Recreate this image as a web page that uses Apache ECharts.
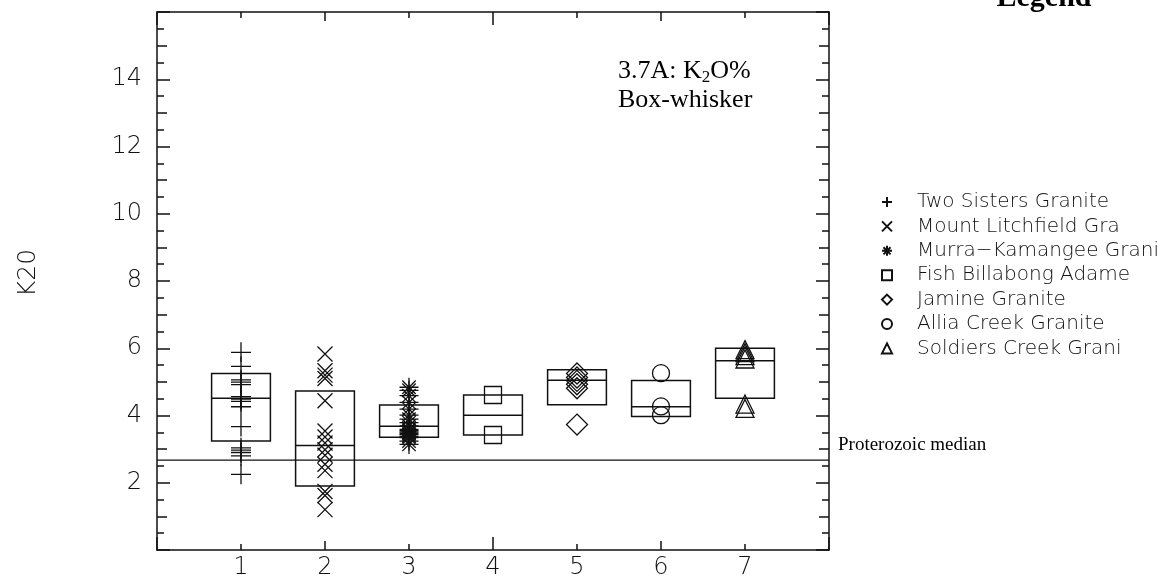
<!DOCTYPE html>
<html>
<head>
<meta charset="utf-8">
<script src="https://cdn.jsdelivr.net/npm/echarts@6/dist/echarts.min.js"></script>
<style>
html,body{margin:0;padding:0;background:#fff;}
#chart{width:1171px;height:581px;}
</style>
</head>
<body>
<div id="chart"></div>
<script>
// ---------------- data ----------------
const xPositions = [1, 2, 3, 4, 5, 6, 7];
const xTickLabels = ['1', '2', '3', '4', '5', '6', '7'];
const yTickLabels = ['2', '4', '6', '8', '10', '12', '14'];
const seriesNames = [
  'Two Sisters Granite',
  'Mount Litchfield Gra',
  'Murra\u2212Kamangee Grani',
  'Fish Billabong Adame',
  'Jamine Granite',
  'Allia Creek Granite',
  'Soldiers Creek Grani'
];
const twoSisters = [5.88, 5.46, 5.06, 4.99, 4.92, 4.56, 4.49, 4.42, 4.26, 3.67, 3.04, 2.97, 2.90, 2.80, 2.25];
const mountLitchfield = [5.83, 5.33, 5.20, 5.10, 4.44, 3.54, 3.36, 3.18, 2.98, 2.82, 2.55, 2.36, 1.74, 1.62, 1.20];
const murraKamangee = [4.84, 4.75, 4.59, 4.39, 4.19, 4.01, 3.89, 3.79, 3.69, 3.59, 3.55, 3.51, 3.47, 3.43, 3.38, 3.34, 3.24, 3.14];
const fishBillabong = [4.61, 3.42];
const jamine = [5.25, 5.13, 5.03, 4.93, 4.81, 3.73];
const alliaCreek = [5.26, 4.27, 4.01];
const soldiersCreek = [5.96, 5.87, 5.78, 5.68, 4.34, 4.21];
const boxQ1 = [3.24, 1.90, 3.35, 3.42, 4.32, 3.97, 4.51];
const boxMedian = [4.51, 3.11, 3.68, 4.01, 5.05, 4.26, 5.63];
const boxQ3 = [5.25, 4.73, 4.31, 4.61, 5.36, 5.04, 6.00];
const proterozoicMedian = 2.67;

// ---------------- styling ----------------
const INK = '#111';
const SANS = '"DejaVu Sans", sans-serif';

const plusPath = 'path://M10,0L10,20M0,10L20,10';
const crossPath = 'path://M0,0L20,20M20,0L0,20';
const starPath = 'path://M10,0L10,20M0,10L20,10M2.93,2.93L17.07,17.07M17.07,2.93L2.93,17.07';

const groups = [
  { values: twoSisters, symbol: plusPath, size: 20 },
  { values: mountLitchfield, symbol: crossPath, size: 15 },
  { values: murraKamangee, symbol: starPath, size: 19 },
  { values: fishBillabong, symbol: 'rect', size: 17 },
  { values: jamine, symbol: 'diamond', size: 21 },
  { values: alliaCreek, symbol: 'circle', size: 17 },
  { values: soldiersCreek, symbol: 'triangle', size: [18, 18] }
];

const scatterSeries = groups.map((g, i) => ({
  name: seriesNames[i],
  type: 'scatter',
  xAxisIndex: 0,
  yAxisIndex: 0,
  symbol: g.symbol,
  symbolSize: g.size,
  z: 5,
  itemStyle: { color: 'rgba(0,0,0,0)', borderColor: INK, borderWidth: 1.3, opacity: 1 },
  emphasis: { disabled: true },
  data: g.values.map(v => [xPositions[i], v])
}));

const boxData = xPositions.map((x, i) => [x, boxQ1[i], boxMedian[i], boxQ3[i]]);

const boxSeries = {
  type: 'custom',
  name: 'boxes',
  xAxisIndex: 0,
  yAxisIndex: 0,
  z: 3,
  encode: { x: 0, y: [1, 2, 3] },
  data: boxData,
  renderItem: function (params, api) {
    const x = api.value(0);
    const top = api.coord([x, api.value(3)]);
    const bot = api.coord([x, api.value(1)]);
    const med = api.coord([x, api.value(2)]);
    const w = api.size([0.7, 0])[0];
    return {
      type: 'group',
      children: [
        { type: 'rect', shape: { x: top[0] - w / 2, y: top[1], width: w, height: bot[1] - top[1] },
          style: { fill: 'none', stroke: INK, lineWidth: 1.5 } },
        { type: 'line', shape: { x1: med[0] - w / 2, y1: med[1], x2: med[0] + w / 2, y2: med[1] },
          style: { stroke: INK, lineWidth: 1.5 } }
      ]
    };
  }
};

const medianSeries = {
  type: 'line',
  name: 'Proterozoic median',
  xAxisIndex: 0,
  yAxisIndex: 0,
  symbol: 'none',
  z: 4,
  lineStyle: { color: INK, width: 1.3 },
  data: [[0, proterozoicMedian], [8, proterozoicMedian]]
};

function xAxisDef(pos, interval, len, minorLen, labels, line) {
  return {
    type: 'value', position: pos, min: 0, max: 8, interval: interval,
    axisLine: { show: line, onZero: false, lineStyle: { color: INK, width: 1.5 } },
    axisTick: { show: true, inside: true, length: len, lineStyle: { color: INK, width: 1.5 } },
    minorTick: minorLen ? { show: true, splitNumber: 2, length: minorLen, lineStyle: { color: INK, width: 1.5 } } : { show: false },
    splitLine: { show: false },
    axisLabel: labels ? {
      show: true, margin: 6, fontSize: 24, fontFamily: SANS, fontWeight: 300, color: INK,
      formatter: v => { const k = xPositions.indexOf(v); return k >= 0 ? xTickLabels[k] : ''; }
    } : { show: false }
  };
}
function yAxisDef(pos, interval, len, minorLen, labels, line) {
  return {
    type: 'value', position: pos, min: 0, max: 16, interval: interval,
    axisLine: { show: line, onZero: false, lineStyle: { color: INK, width: 1.5 } },
    axisTick: { show: true, inside: true, length: len, lineStyle: { color: INK, width: 1.5 } },
    minorTick: minorLen ? { show: true, splitNumber: 2, length: minorLen, lineStyle: { color: INK, width: 1.5 } } : { show: false },
    splitLine: { show: false },
    axisLabel: labels ? {
      show: true, margin: 15, fontSize: 24, fontFamily: SANS, fontWeight: 300, color: INK,
      formatter: v => { const s = String(v); return yTickLabels.indexOf(s) >= 0 ? s : ''; }
    } : { show: false }
  };
}

const option = {
  animation: false,
  backgroundColor: '#fff',
  grid: { left: 157, right: 342, top: 12, bottom: 31, show: false, containLabel: false },
  xAxis: [
    xAxisDef('bottom', 1, 6, 0, true, true),
    xAxisDef('bottom', 4, 13, 9, false, false),
    xAxisDef('top', 1, 6, 0, false, true),
    xAxisDef('top', 4, 13, 9, false, false)
  ],
  yAxis: [
    yAxisDef('left', 2, 13, 0, true, true),
    yAxisDef('left', 1, 10, 7, false, false),
    yAxisDef('right', 2, 13, 0, false, true),
    yAxisDef('right', 1, 10, 7, false, false)
  ],
  legend: {
    data: seriesNames,
    orient: 'vertical',
    left: 876,
    top: 187,
    itemWidth: 10,
    itemHeight: 10,
    itemGap: 4.4,
    selectedMode: false,
    textStyle: { fontFamily: SANS, fontSize: 20, fontWeight: 300, color: INK, lineHeight: 20, padding: [0, 0, 0, 20] }
  },
  graphic: [
    { type: 'text', x: 28, y: 273, rotation: Math.PI / 2,
      style: { text: 'K20', font: '300 25px "DejaVu Sans", sans-serif', fill: INK, align: 'center', verticalAlign: 'middle' } },
    { type: 'text', x: 618, y: 57,
      style: {
        text: '3.7A: K{sub|2}O%\nBox-whisker',
        font: '26px "Liberation Serif", serif', fill: '#000', lineHeight: 29,
        align: 'left', verticalAlign: 'top',
        rich: { sub: { fontSize: 17, fontFamily: 'Liberation Serif', padding: [12, 0, 0, 0], lineHeight: 29 } }
      } },
    { type: 'text', x: 1044, y: 13,
      style: { text: 'Legend', font: 'bold 30px "Liberation Serif", serif', fill: '#000', align: 'center', verticalAlign: 'bottom' } },
    { type: 'text', x: 838, y: 455,
      style: { text: 'Proterozoic median', font: '19px "Liberation Serif", serif', fill: '#000', align: 'left', verticalAlign: 'bottom' } }
  ],
  series: [boxSeries, medianSeries].concat(scatterSeries)
};

const chart = echarts.init(document.getElementById('chart'), null, { renderer: 'canvas' });
chart.setOption(option);
</script>
</body>
</html>
